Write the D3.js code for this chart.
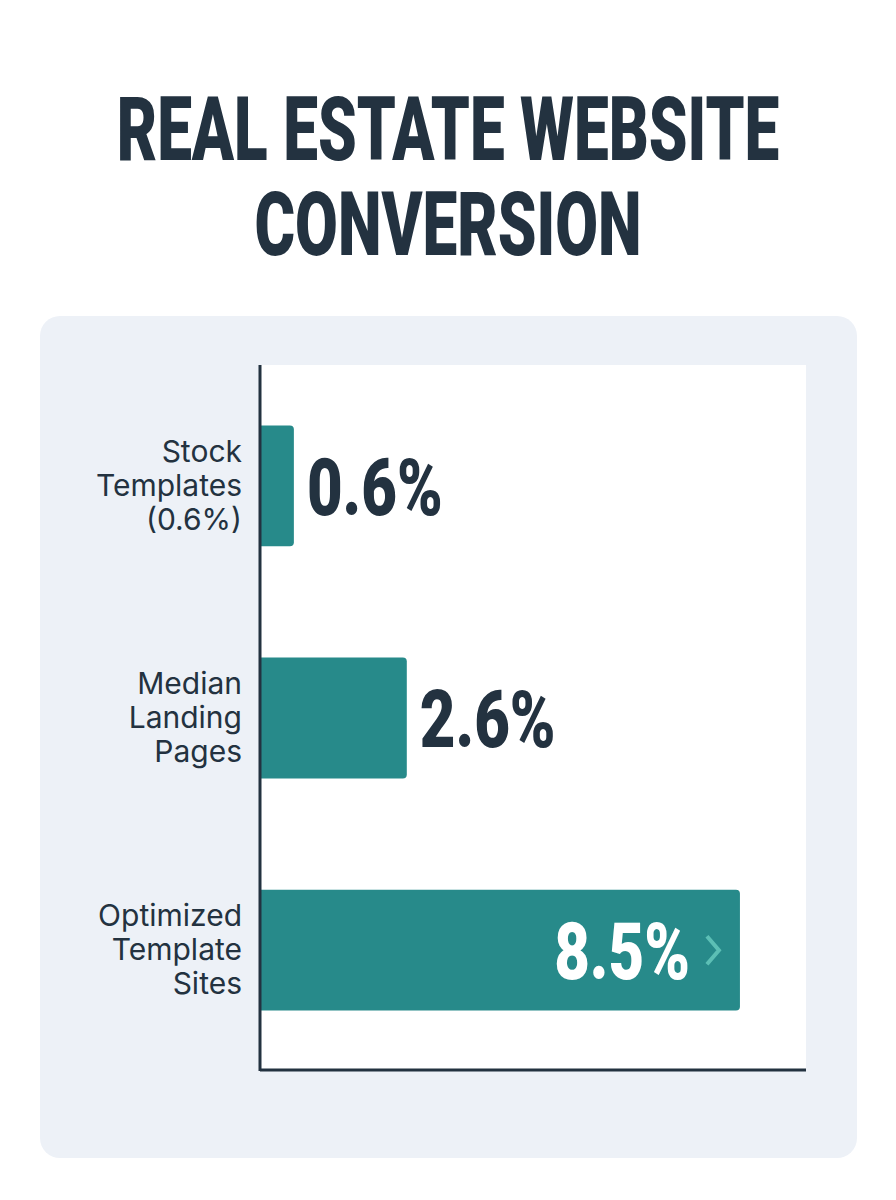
<!DOCTYPE html>
<html><head><meta charset="utf-8">
<script src="https://cdn.jsdelivr.net/npm/d3@7"></script>
<style>html,body{margin:0;padding:0;background:#ffffff;}</style>
</head><body>
<svg id="chart" width="896" height="1200"></svg>
<script>
const titleLines = ["REAL ESTATE WEBSITE", "CONVERSION"];
const categories = ["Stock Templates", "Median Landing Pages", "Optimized Template Sites"];
const categoryLabelLines = [["Stock", "Templates", "(0.6%)"], ["Median", "Landing", "Pages"], ["Optimized", "Template", "Sites"]];
const values = [0.6, 2.6, 8.5];
const valueLabels = ["0.6%", "2.6%", "8.5%"];

const svg = d3.select("#chart");
const dark = "#233240", teal = "#278a8a";

// Title
const condensed = "'Roboto', 'Liberation Sans', sans-serif";
titleLines.forEach((t, i) => {
  const g = svg.append("g").attr("transform", `translate(448,${160 + i * 95}) scale(0.697,1)`);
  g.append("text").attr("text-anchor", "middle").attr("font-family", condensed)
    .attr("font-weight", 900).attr("font-size", 89).attr("fill", dark).text(t);
});

// Panel
svg.append("rect").attr("x", 40).attr("y", 316).attr("width", 817).attr("height", 842)
  .attr("rx", 20).attr("fill", "#edf1f7");

const plot = {left: 260, right: 806, top: 365, bottom: 1071};
svg.append("rect").attr("x", plot.left).attr("y", plot.top)
  .attr("width", plot.right - plot.left).attr("height", plot.bottom - plot.top).attr("fill", "#ffffff");

const x = d3.scaleLinear().domain([0, 9.67]).range([plot.left, plot.right]);
const y = d3.scaleBand().domain(categories).range([plot.top, plot.bottom]).paddingInner(0.48).paddingOuter(0.26);

// Bars with rounded right corners
const r = 4;
categories.forEach((c, i) => {
  const x0 = x(0), x1 = x(values[i]), y0 = y(c), h = y.bandwidth();
  const p = `M${x0},${y0} H${x1 - r} Q${x1},${y0} ${x1},${y0 + r} V${y0 + h - r} Q${x1},${y0 + h} ${x1 - r},${y0 + h} H${x0} Z`;
  svg.append("path").attr("d", p).attr("fill", teal);
});

// Axes lines
svg.append("line").attr("x1", plot.left).attr("x2", plot.left).attr("y1", plot.top).attr("y2", plot.bottom)
  .attr("stroke", dark).attr("stroke-width", 3);
svg.append("line").attr("x1", plot.left).attr("x2", plot.right).attr("y1", plot.bottom - 1).attr("y2", plot.bottom - 1)
  .attr("stroke", dark).attr("stroke-width", 3);

// Category labels
categories.forEach((c, i) => {
  const cy = y(c) + y.bandwidth() / 2;
  const lines = categoryLabelLines[i];
  const lh = 34;
  lines.forEach((ln, j) => {
    svg.append("text").attr("x", 242).attr("y", cy + (j - (lines.length - 1) / 2) * lh + 10)
      .attr("text-anchor", "end").attr("font-family", "Inter, 'Open Sans', sans-serif")
      .attr("font-size", 30).attr("fill", dark).text(ln);
  });
});

// Value labels
categories.forEach((c, i) => {
  const cy = y(c) + y.bandwidth() / 2;
  const inside = i === categories.length - 1;
  const tx = inside ? x(values[i]) - 50 : x(values[i]) + 13;
  const g = svg.append("g").attr("transform", `translate(${tx},${cy + 29}) scale(0.77,1)`);
  g.append("text").attr("text-anchor", inside ? "end" : "start").attr("font-family", condensed)
    .attr("font-weight", 900).attr("font-size", 80).attr("fill", inside ? "#ffffff" : dark).text(valueLabels[i]);
  if (inside) {
    const ax = x(values[i]) - 33;
    svg.append("path").attr("d", `M${ax},${cy - 14} L${ax + 12},${cy} L${ax},${cy + 14}`)
      .attr("fill", "none").attr("stroke", "#5cbfb5").attr("stroke-width", 4);
  }
});
</script>
</body></html>
